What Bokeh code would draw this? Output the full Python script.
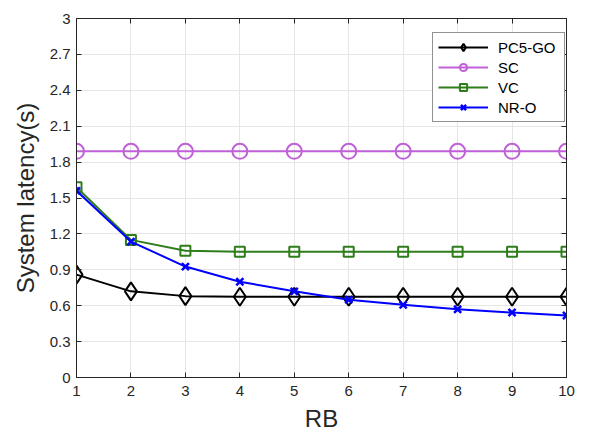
from bokeh.plotting import figure
from bokeh.models import LinearAxis, FixedTicker, Legend, LegendItem, Range1d
from bokeh.embed import file_html
from bokeh.resources import INLINE

rb = [1, 2, 3, 4, 5, 6, 7, 8, 9, 10]
pc5_go = [0.86, 0.72, 0.68, 0.675, 0.675, 0.675, 0.675, 0.675, 0.675, 0.675]
sc = [1.89, 1.89, 1.89, 1.89, 1.89, 1.89, 1.89, 1.89, 1.89, 1.89]
vc = [1.59, 1.15, 1.06, 1.05, 1.05, 1.05, 1.05, 1.05, 1.05, 1.05]
nr_o = [1.56, 1.136, 0.927, 0.80, 0.72, 0.65, 0.607, 0.57, 0.543, 0.518]
y_ticks = [0, 0.3, 0.6, 0.9, 1.2, 1.5, 1.8, 2.1, 2.4, 2.7, 3]
y_labels = {0: "0", 0.3: "0.3", 0.6: "0.6", 0.9: "0.9", 1.2: "1.2", 1.5: "1.5",
            1.8: "1.8", 2.1: "2.1", 2.4: "2.4", 2.7: "2.7", 3: "3"}

FONT = "Liberation Sans"
AX = "#262626"
p = figure(frame_width=490, frame_height=359, output_backend="svg", toolbar_location=None,
           x_range=Range1d(1, 10), y_range=Range1d(0, 3),
           min_border_left=76, min_border_top=18, min_border_right=31, min_border_bottom=59,
           background_fill_color="white", border_fill_color="white")
p.outline_line_color = AX
p.outline_line_width = 1

for ax in (p.xaxis[0], p.yaxis[0]):
    ax.major_tick_in = 5
    ax.major_tick_out = 0
    ax.minor_tick_line_color = None
    ax.axis_line_color = AX
    ax.major_tick_line_color = AX
    ax.major_label_text_font = FONT
    ax.major_label_text_font_size = "15px"
    ax.major_label_text_color = AX
    ax.axis_label_text_font = FONT
    ax.axis_label_text_font_size = "24px"
    ax.axis_label_text_font_style = "normal"
    ax.axis_label_text_color = AX

p.xaxis.ticker = FixedTicker(ticks=rb)
p.yaxis.ticker = FixedTicker(ticks=y_ticks)
p.yaxis.major_label_overrides = y_labels
p.xaxis.axis_label = "RB"
p.yaxis.axis_label = "System latency(s)"
p.xaxis.major_label_standoff = 8
p.yaxis.major_label_standoff = 6
p.xaxis.axis_label_standoff = 6
p.yaxis.axis_label_standoff = 8

for loc, tick in (("above", rb), ("right", y_ticks)):
    a = LinearAxis(ticker=FixedTicker(ticks=tick), major_label_text_color=None,
                   major_label_standoff=0,
                   major_tick_in=5, major_tick_out=0, minor_tick_line_color=None,
                   axis_line_color=AX, major_tick_line_color=AX)
    p.add_layout(a, loc)

p.grid.grid_line_color = "#e6e6e6"
p.grid.grid_line_width = 1

r1 = p.line(rb, pc5_go, line_color="black", line_width=2)
m1 = p.scatter(rb, pc5_go, marker="diamond", size=18, line_color="black", fill_color=None, line_width=2)
r2 = p.line(rb, sc, line_color="#c060d8", line_width=2)
m2 = p.scatter(rb, sc, marker="circle", size=15, line_color="#c060d8", fill_color=None, line_width=2)
r3 = p.line(rb, vc, line_color="#2e7d1a", line_width=2)
m3 = p.scatter(rb, vc, marker="square", size=10, line_color="#2e7d1a", fill_color=None, line_width=2)
r4 = p.line(rb, nr_o, line_color="#0000ff", line_width=2)
m4 = p.scatter(rb, nr_o, marker="x", size=10, line_color="#0000ff", line_width=2.5)

legend = Legend(items=[LegendItem(label="PC5-GO", renderers=[r1, m1]),
                       LegendItem(label="SC", renderers=[r2, m2]),
                       LegendItem(label="VC", renderers=[r3, m3]),
                       LegendItem(label="NR-O", renderers=[r4, m4])],
                location="top_right")
legend.border_line_color = AX
legend.border_line_width = 1
legend.label_text_font = FONT
legend.label_text_font_size = "15px"
legend.label_text_color = "black"
legend.glyph_width = 50
legend.glyph_height = 18
legend.label_height = 18
legend.label_width = 61
legend.spacing = 2
legend.padding = 5
legend.margin = 0
legend.label_standoff = 10
legend.background_fill_alpha = 1
p.add_layout(legend, "center")
legend.location = (356, 255)

open("out.html", "w").write(file_html(p, INLINE))
